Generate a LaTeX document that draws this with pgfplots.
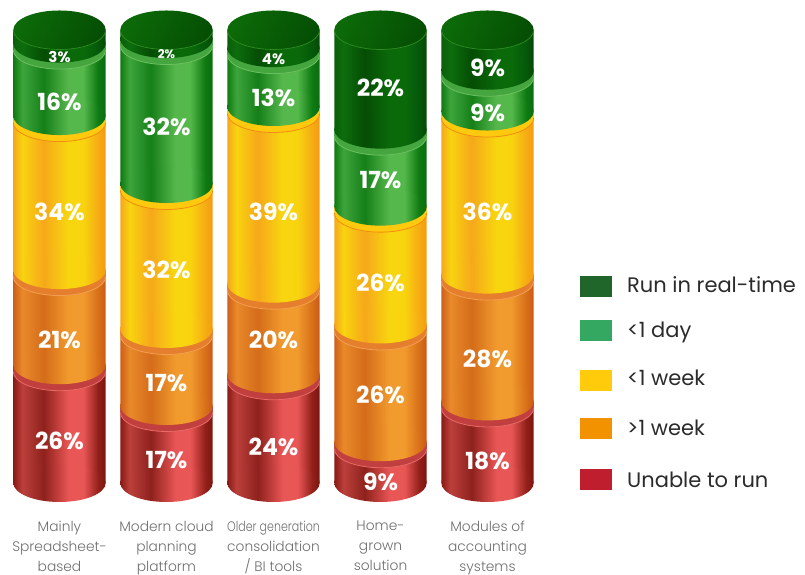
\documentclass[border=0pt]{standalone}
\usepackage{graphicx}
\usepackage{pgfplots}
\pgfplotsset{compat=1.18}
\usepackage{fontspec}
\setmainfont{Poppins}
\newfontfamily\lightf[UprightFont=* Light]{Poppins}

% Horizontal stops of a cylinder's lighting, as fractions of its width
\newcommand\defstops[8]{%
 \definecolor{#1s0}{HTML}{#2}\definecolor{#1s1}{HTML}{#3}\definecolor{#1s2}{HTML}{#4}%
 \definecolor{#1s3}{HTML}{#5}\definecolor{#1s4}{HTML}{#6}\definecolor{#1s5}{HTML}{#7}\definecolor{#1s6}{HTML}{#8}}
\defstops{red}{8A1A14}{BC403C}{8E211C}{E95656}{E95656}{92201A}{7C1510}
\defstops{ora}{CE5F18}{E98A2A}{D46C1A}{F19A2D}{F19A2D}{D8701A}{CC5A14}
\defstops{yel}{F5A71C}{F8D40F}{F6A81A}{F8D60F}{F8D40F}{F6AC14}{F49C10}
\defstops{gre}{0E7A10}{3EA53C}{157F18}{56B84C}{54B84B}{0E7A12}{0A6E0E}
\defstops{dar}{0A5F08}{0D6D0D}{054D04}{0A6A0A}{0A6A0A}{05580A}{044A06}

% Two shadings per band: <n>one for a single cylinder (caps), <n>all repeating over the five columns (bars)
\newcommand\declbody[1]{%
 \gdef\stoplist{color(0bp)=(#1s0)}%
 \foreach \f/\k in {0/0,0.1/1,0.33/2,0.6/3,0.76/4,0.92/5,1/6}{%
  \pgfmathsetmacro\b{25+50*\f}%
  \xdef\stoplist{\stoplist;color(\b bp)=(#1s\k)}}%
 \xdef\stoplist{\stoplist;color(100bp)=(#1s6)}%
 \edef\act{\noexpand\pgfdeclarehorizontalshading{#1one}{100bp}{\stoplist}}\act
 \gdef\stoplist{color(0bp)=(#1s0)}%
 \foreach \j in {0,...,4}{\foreach \f/\k in {0/0,0.1/1,0.33/2,0.6/3,0.76/4,0.92/5,1/6}{%
  \pgfmathsetmacro\b{25+(107*\j+92*\f)*0.09606}%
  \xdef\stoplist{\stoplist;color(\b bp)=(#1s\k)}}}%
 \xdef\stoplist{\stoplist;color(100bp)=(#1s6)}%
 \edef\act{\noexpand\pgfdeclarehorizontalshading{#1all}{100bp}{\stoplist}}\act}
\declbody{red}\declbody{ora}\declbody{yel}\declbody{gre}\declbody{dar}

% Lower cap of a segment, centred on its base
\newcommand\declcap[1]{%
 \pgfdeclareplotmark{cap#1}{%
  \pgfpathellipse{\pgfpointorigin}{\pgfqpoint{46.2pt}{0pt}}{\pgfqpoint{0pt}{19pt}}%
  \pgfshadepath{#1one}{0}\pgfusepath{discard}}}
\declcap{red}\declcap{ora}\declcap{yel}\declcap{gre}\declcap{dar}

% Lip at the top of a segment: flat band with a thin lit lower edge
\newcommand\declrim[3]{%
 \definecolor{#1rim}{HTML}{#2}\definecolor{#1line}{HTML}{#3}%
 \pgfdeclareplotmark{rim#1}{%
  \pgfsetfillcolor{#1rim}\pgfsetstrokecolor{#1line}\pgfsetlinewidth{0.8pt}%
  \pgfpathmoveto{\pgfqpoint{-46.2pt}{0pt}}%
  \pgfpathlineto{\pgfqpoint{-46.2pt}{-6.5pt}}%
  \pgfpatharc{180}{360}{46.2pt and 19pt}%
  \pgfpathlineto{\pgfqpoint{46.2pt}{0pt}}%
  \pgfpathclose\pgfusepath{fill}%
  \pgfpathmoveto{\pgfqpoint{-46.2pt}{-6.5pt}}%
  \pgfpatharc{180}{360}{46.2pt and 19pt}%
  \pgfusepath{stroke}}}
\declrim{red}{C23F3F}{E86A64}
\declrim{ora}{E57F2E}{F2A050}
\declrim{yel}{FFC90E}{F08C12}
\declrim{gre}{45A53E}{6CC060}

% Closed top of the cylinder
\definecolor{topa}{HTML}{0C6A08}\definecolor{topb}{HTML}{054F04}\definecolor{topl}{HTML}{2E8C22}
\pgfdeclarehorizontalshading{topshade}{100bp}{color(0bp)=(topa);color(25bp)=(topa);color(75bp)=(topb);color(100bp)=(topb)}
\pgfdeclareplotmark{captop}{%
 \pgfpathellipse{\pgfpointorigin}{\pgfqpoint{46.2pt}{0pt}}{\pgfqpoint{0pt}{19.5pt}}%
 \pgfshadepath{topshade}{-25}\pgfusepath{discard}%
 \pgfsetstrokecolor{topl}\pgfsetlinewidth{0.7pt}%
 \pgfpathmoveto{\pgfqpoint{-46.2pt}{0pt}}%
 \pgfpatharc{180}{360}{46.2pt and 19.5pt}%
 \pgfusepath{stroke}}

\definecolor{axtext}{HTML}{6E6E6E}
\definecolor{legtext}{HTML}{2B2B2B}
\definecolor{k1}{HTML}{20662A}\definecolor{k2}{HTML}{34A860}\definecolor{k3}{HTML}{FFCB0A}\definecolor{k4}{HTML}{F39200}\definecolor{k5}{HTML}{BE1E2D}

\pgfplotsset{
 seg/.style={ybar,bar shift=0pt,bar width=92.4pt,draw=none,shade,shading=#1all,forget plot},
 markplot/.style={sharp plot,only marks,stack plots=false,mark=#1,forget plot},
 pct/.style={sharp plot,only marks,mark=none,stack plots=false,forget plot,
  nodes near coords,point meta=explicit symbolic,
  every node near coord/.style={anchor=center,inner sep=0pt,text=white,font=\fontsize{#1}{#1}\selectfont\bfseries}},
}
% Legend row: swatch centre, swatch colour, text baseline, text
\newcommand\legrow[4]{%
 \fill[#2] (580pt,{575pt-#1pt-10.5pt}) rectangle +(32pt,21pt);
 \node[anchor=base west,inner sep=0pt,text=legtext,font=\fontsize{21}{25}\selectfont] at (627pt,{575pt-#3pt}) {#4};}

\begin{document}
\begin{tikzpicture}
\useasboundingbox (0,0) rectangle (805pt,575pt);
\begin{axis}[at={(0pt,65pt)},anchor=south west,scale only axis,width=805pt,height=510pt,
 xmin=-0.556,xmax=6.967,ymin=-5.96,ymax=106.62,stack plots=y,reverse stacked plots=false,clip=false,
 axis line style={draw=none},major tick length=0pt,ytick=\empty,xtick={0,1,2,3,4},
 xticklabels={{Mainly\\Spreadsheet-\\based},{Modern cloud\\planning\\platform},{\scalebox{0.80}[1]{Older generation}\\consolidation\\/ BI tools},{Home-\\grown\\solution},{Modules of\\accounting\\systems}},
 xticklabel style={align=center,text=axtext,font=\lightf\fontsize{13.8}{20}\selectfont,anchor=north,inner sep=0pt,yshift=-11pt}]

% Unable to run
\addplot[seg=red] coordinates {(0,26)(1,17)(2,24)(3,9)(4,18)};
\addplot[markplot=capred] coordinates {(0,0)(1,0)(2,0)(3,0)(4,0)};
\addplot[markplot=rimred] coordinates {(0,26)(1,17)(2,24)(3,9)(4,18)};
% >1 week
\addplot[seg=ora] coordinates {(0,21)(1,17)(2,20)(3,26)(4,28)};
\addplot[markplot=capora] coordinates {(0,26)(1,17)(2,24)(3,9)(4,18)};
\addplot[markplot=rimora] coordinates {(0,47)(1,34)(2,44)(3,35)(4,46)};
% <1 week
\addplot[seg=yel] coordinates {(0,34)(1,32)(2,39)(3,26)(4,36)};
\addplot[markplot=capyel] coordinates {(0,47)(1,34)(2,44)(3,35)(4,46)};
\addplot[markplot=rimyel] coordinates {(0,81)(1,66)(2,83)(3,61)(4,82)};
% <1 day
\addplot[seg=gre] coordinates {(0,16)(1,32)(2,13)(3,17)(4,9)};
\addplot[markplot=capgre] coordinates {(0,81)(1,66)(2,83)(3,61)(4,82)};
\addplot[markplot=rimgre] coordinates {(0,97)(1,98)(2,96)(3,78)(4,91)};
% Run in real-time
\addplot[seg=dar] coordinates {(0,3)(1,2)(2,4)(3,22)(4,9)};
\addplot[markplot=capdar] coordinates {(0,97)(1,98)(2,96)(3,78)(4,91)};
\addplot[markplot=captop] coordinates {(0,100)(1,100)(2,100)(3,100)(4,100)};

% Percentage labels, centred on the visible part of each band
\addplot[pct=23.5] coordinates {
 (0,84.11)[16\%] (0,59.82)[34\%] (0,31.57)[21\%] (0,9.27)[26\%]
 (1,78.59)[32\%] (1,47.02)[32\%] (1,22.08)[17\%] (1,5.08)[17\%]
 (2,84.99)[13\%] (2,59.82)[39\%] (2,31.57)[20\%] (2,7.95)[24\%]
 (3,87.20)[22\%] (3,66.89)[17\%] (3,44.15)[26\%] (3,19.43)[26\%] (3,0.22)[9\%]
 (4,91.61)[9\%] (4,81.68)[9\%] (4,59.82)[36\%] (4,27.37)[28\%] (4,4.86)[18\%]};
\addplot[pct=15] coordinates {(0,94.04)[3\%] (2,93.60)[4\%]};
\addplot[pct=12] coordinates {(1,94.70)[2\%]};
\end{axis}
\legrow{286.4}{k1}{292.5}{Run in real-time}
\legrow{331}{k2}{337.5}{<1 day}
\legrow{380.5}{k3}{386}{<1 week}
\legrow{429}{k4}{435.5}{>1 week}
\legrow{480}{k5}{488}{Unable to run}
\end{tikzpicture}
\end{document}
